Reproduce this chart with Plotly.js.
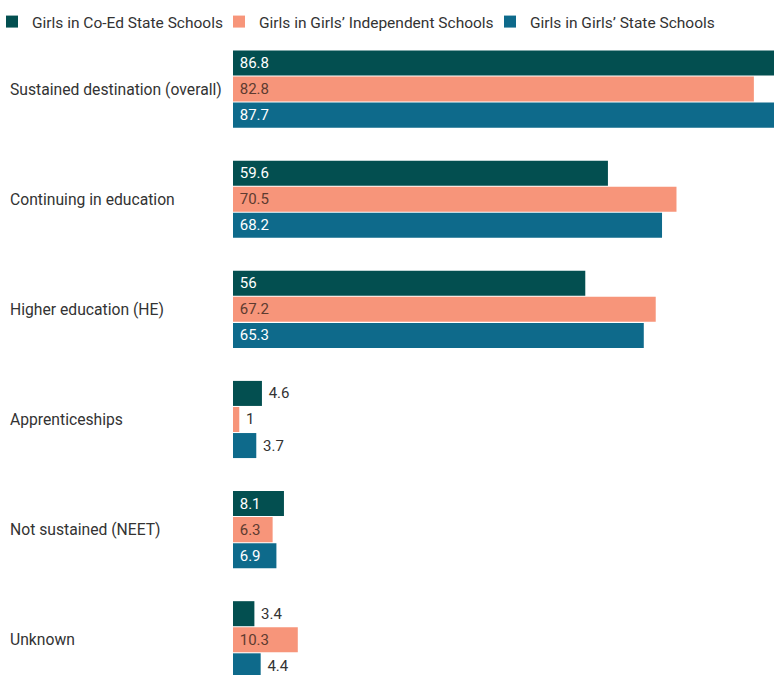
<!DOCTYPE html>
<html><head><meta charset="utf-8">
<script src="https://cdn.plot.ly/plotly-3.0.1.min.js"></script>
<style>html,body{margin:0;padding:0;background:#fff}#chart{width:774px;height:675px}</style>
</head><body><div id="chart"></div>
<script>
const categories = ["Sustained destination (overall)","Continuing in education","Higher education (HE)","Apprenticeships","Not sustained (NEET)","Unknown"];
const seriesNames = ["Girls in Co-Ed State Schools","Girls in Girls\u2019 Independent Schools","Girls in Girls\u2019 State Schools"];
const coEdState = [86.8,59.6,56,4.6,8.1,3.4];
const girlsIndependent = [82.8,70.5,67.2,1,6.3,10.3];
const girlsState = [87.7,68.2,65.3,3.7,6.9,4.4];
const colors = ["#034f50","#f7957a","#0e6a8b"];
const insideColors = ["#ffffff","#5e3b30","#ffffff"];
const legendIds = ["legend","legend2","legend3"];
const legendTextLeft = [32,259,530];

const allSeries = [coEdState, girlsIndependent, girlsState];
const traces = allSeries.map((vals,i)=>({
  type:'bar', orientation:'h', name:seriesNames[i],
  y:categories, x:vals,
  legend:legendIds[i],
  marker:{color:colors[i]},
  text:vals.map(v=>String(v)),
  texttemplate:'\u00a0%{text}',
  textposition:vals.map(v=>v>=6?'inside':'outside'),
  insidetextanchor:'start',
  insidetextfont:{color:insideColors[i], size:15, family:'Roboto'},
  outsidetextfont:{color:'#333333', size:15, family:'Roboto'},
  cliponaxis:true,
  hoverinfo:'none'
}));

const annotations = categories.map(c=>({
  xref:'paper', yref:'y', x:(8-233)/541, y:c, xanchor:'left', yanchor:'middle',
  text:c, showarrow:false, font:{family:'Roboto', size:15.7, color:'#333333'}
}));

const layout = {
  width:774, height:675,
  margin:{l:233, r:0, t:34, b:0, autoexpand:false},
  paper_bgcolor:'#fff', plot_bgcolor:'#fff',
  font:{family:'Roboto', color:'#333333'},
  barmode:'group', bargap:0.29, bargroupgap:0.04,
  xaxis:{range:[0,86], showgrid:false, zeroline:false, showticklabels:false, ticks:'', fixedrange:true},
  yaxis:{type:'category', range:[5.32,-0.5], showticklabels:false, ticks:'', showgrid:false, zeroline:false},
  annotations:annotations,
  showlegend:true
};
legendIds.forEach((id,i)=>{
  layout[id] = {orientation:'h', xref:'paper', yref:'container',
    x:(legendTextLeft[i]-40-233)/541, y:1-22/675, xanchor:'left', yanchor:'middle',
    font:{family:'Roboto', size:15.5, color:'#333333'}, bgcolor:'rgba(0,0,0,0)'};
});
Plotly.newPlot('chart', traces, layout, {staticPlot:true});
</script></body></html>
